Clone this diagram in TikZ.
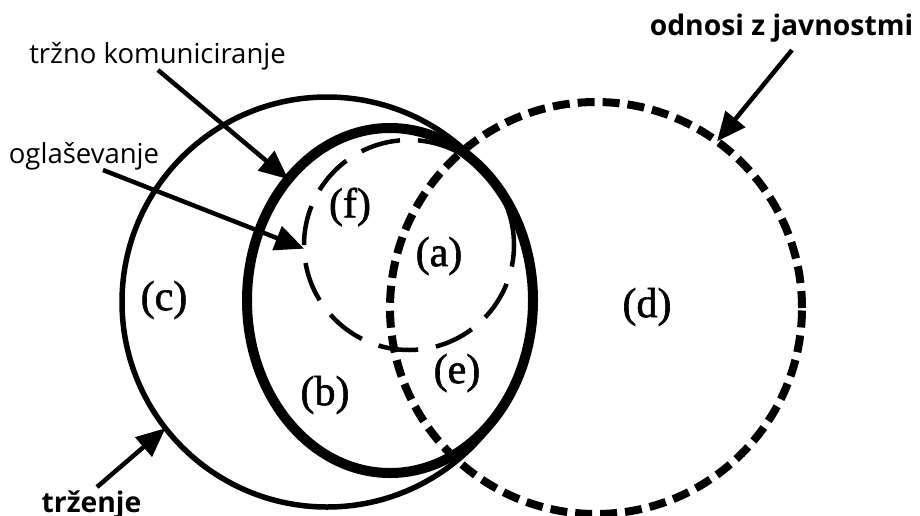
\documentclass[tikz,border=0pt]{standalone}
\usepackage{fontspec}
\setmainfont{Liberation Serif}
\setsansfont{Open Sans}
\newfontfamily\lblfont[FakeBold=1.5]{Liberation Serif}
\usetikzlibrary{arrows.meta,shapes.geometric}
\begin{document}
\begin{tikzpicture}[x=1pt,y=-1pt,
  ring/.style={ellipse, draw, inner sep=0pt, outer sep=0pt},
  lbl/.style={font=\lblfont\fontsize{42}{46}\selectfont, inner sep=0pt},
  txt/.style={font=\sffamily\fontsize{27.5}{32}\selectfont, inner sep=0pt, anchor=base},
  btxt/.style={font=\sffamily\bfseries\fontsize{28.3}{32}\selectfont, inner sep=0pt, anchor=base},
  arr/.style={line width=4.5pt, -{Triangle[length=29pt,width=25pt]}}]
\useasboundingbox (0,0) rectangle (920,515);
% circles
\node[ring, line width=5.5pt, minimum width=410pt, minimum height=410pt] (trz) at (327,302) {};
\node[ring, line width=10pt, minimum width=286pt, minimum height=345pt] (tk) at (390,300.5) {};
\node[ring, line width=4.5pt, dash pattern=on 40pt off 18pt, minimum width=210pt, minimum height=210pt] (og) at (409,245) {};
\node[ring, line width=8pt, dash pattern=on 17pt off 8pt, minimum width=412pt, minimum height=412pt] (pr) at (596,308) {};
% region labels
\node[lbl] (f) at (350,207) {(f)};
\node[lbl] (a) at (439,256) {(a)};
\node[lbl] (c) at (164,300) {(c)};
\node[lbl] (d) at (647,307) {(d)};
\node[lbl] (b) at (325,395) {(b)};
\node[lbl] (e) at (457,373) {(e)};
% texts
\node[txt] (ttk) at (157.5,63) {tržno komuniciranje};
\node[txt] (tog) at (84,163) {oglaševanje};
\node[btxt] (tpr) at (781.5,35) {odnosi z javnostmi};
\node[btxt] (ttr) at (91.5,512) {trženje};
% arrows
\coordinate (stk) at (158,70);
\coordinate (sog) at (103,170);
\coordinate (spr) at (792,50);
\coordinate (str) at (97,487);
\draw[arr] (stk) -- (tk.130.4);
\draw[arr] (sog) -- (og.182);
\draw[arr] (spr) -- (pr.54.7);
\draw[arr] (str) -- (trz.218.5);
\end{tikzpicture}
\end{document}
